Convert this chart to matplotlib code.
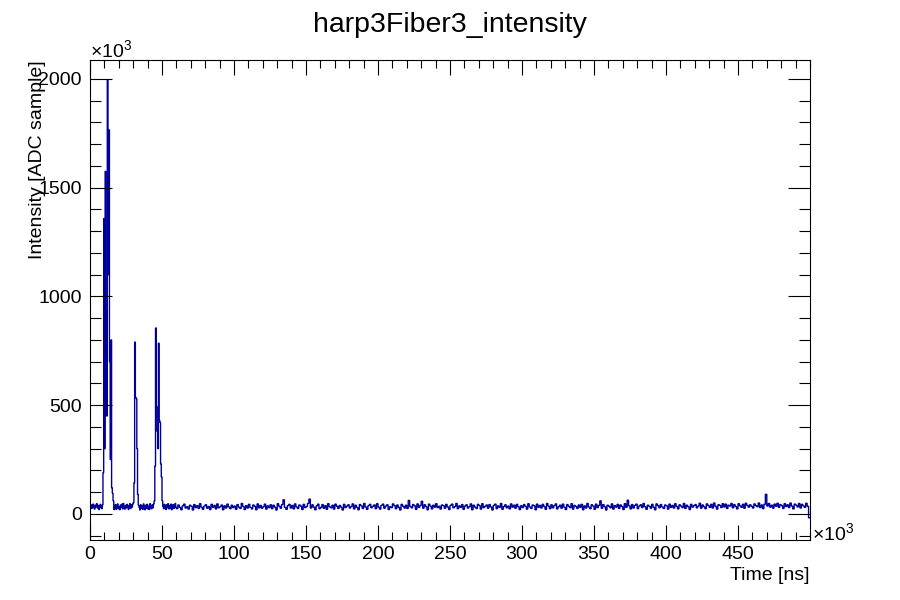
import numpy as np
import matplotlib
matplotlib.use("Agg")
import matplotlib.pyplot as plt
from matplotlib.ticker import MultipleLocator

plt.rcParams['font.family'] = ['Liberation Sans', 'DejaVu Sans']
plt.rcParams['mathtext.fontset'] = 'custom'
plt.rcParams['mathtext.rm'] = 'Liberation Sans'
plt.rcParams['mathtext.it'] = 'Liberation Sans'

# Time in units of 1e3 ns, intensity in units of 1e3 ADC
# fine bins (0.5) for 0 - 60, coarse bins (1) for 60 - 500
fine_width = 0.5
coarse_width = 1.0
fine_counts = [
    34, 42, 25, 38, 45, 29, 22, 40, 33, 47, 27, 39, 20, 36, 44, 28, 24, 41,
    190, 1358, 300, 1575, 930, 450, 1997, 1100, 1766, 700, 250, 800, 120, 95, 60, 20,
    28, 43, 21, 37, 46, 24, 33, 19, 41, 30, 45, 23, 48, 31, 22, 39, 27, 44, 35, 20,
    38, 47, 25, 42, 31, 45, 52,
    143, 790, 536, 530, 300, 90, 40,
    30, 18, 42, 25, 37, 21, 46, 29, 19, 40, 26, 44, 23, 35, 20, 47, 32, 24, 41, 28, 45, 60,
    220, 855, 494, 380, 300, 785, 430, 420, 230, 170, 60, 35,
    24, 44, 31, 20, 42, 29, 47, 23, 38, 27, 45, 19, 36, 43, 25, 33, 48, 30,
]
coarse_counts = [
    24, 41, 30, 19, 37, 45, 27, 33, 22, 40, 35, 18, 43, 29, 38, 25, 47, 31, 21, 36,
    42, 26, 34, 20, 44, 30, 39, 23, 46, 28, 33, 41, 19, 37, 27, 45, 32, 24, 40, 29,
    36, 21, 43, 31, 25, 48, 34, 20, 38, 27, 44, 30, 23, 41, 35, 19, 46, 28, 39, 26,
    33, 45, 22, 37, 29, 42, 24, 40, 31, 18, 47, 35, 26, 43, 65, 30, 21, 38, 44, 27,
    39, 23, 46, 32, 25, 41, 36, 20, 44, 29, 34, 48, 68, 27, 42, 31, 19, 37, 45, 24,
    30, 43, 26, 38, 21, 47, 33, 28, 40, 22, 45, 35, 25, 39, 31, 18, 44, 29, 36, 42,
    27, 34, 46, 23, 40, 30, 19, 43, 37, 25, 48, 32, 21, 38, 44, 28, 35, 41, 24, 47,
    31, 22, 39, 45, 26, 36, 42, 20, 33, 29, 46, 38, 24, 41, 30, 18, 44, 35, 27, 40,
    25, 62, 34, 28, 43, 37, 21, 46, 30, 39, 58, 26, 42, 33, 19, 45, 36, 23, 40, 31,
    47, 29, 35, 22, 41, 38, 26, 44, 32, 20, 39, 45, 28, 34, 48, 24, 37, 30, 43, 21,
    36, 42, 27, 33, 46, 19, 40, 31, 25, 44, 38, 22, 47, 29, 35, 41, 26, 43, 32, 18,
    39, 45, 24, 37, 30, 48, 21, 34, 42, 28, 36, 23, 46, 31, 40, 26, 44, 33, 20, 38,
    29, 43, 35, 22, 47, 32, 25, 41, 37, 19, 45, 30, 39, 27, 44, 34, 21, 48, 36, 24,
    42, 28, 38, 46, 23, 33, 40, 26, 45, 31, 20, 43, 35, 29, 47, 22, 39, 34, 25, 41,
    30, 44, 19, 37, 27, 48, 32, 24, 42, 36, 21, 45, 29, 39, 60, 26, 43, 33, 18, 40,
    35, 28, 46, 22, 38, 31, 44, 25, 41, 34, 20, 47, 30, 63, 37, 23, 43, 27, 39, 45,
    24, 36, 42, 29, 48, 33, 21, 40, 35, 26, 44, 31, 19, 46, 38, 28, 43, 32, 25, 41,
    37, 22, 45, 30, 39, 27, 47, 34, 23, 42, 36, 29, 48, 25, 40, 33, 20, 44, 31, 38,
    43, 28, 36, 49, 26, 41, 33, 24, 46, 38, 30, 44, 27, 50, 35, 22, 42, 39, 29, 47,
    32, 45, 25, 40, 36, 48, 28, 43, 34, 23, 47, 37, 30, 44, 26, 49, 39, 31, 42, 35,
    27, 46, 38, 33, 50, 29, 41, 24, 44, 90, 36, 48, 31, 40, 26, 45, 35, 49, 30, 43,
    38, 25, 47, 34, 42, 29, 50, 36, 23, 45, 40, 32, 48, 27, 44, 37, 30, 49, 35, -18,
]

fine_edges = np.arange(len(fine_counts)) * fine_width
coarse_start = len(fine_counts) * fine_width
coarse_edges = coarse_start + np.arange(len(coarse_counts) + 1) * coarse_width
edges = np.concatenate([fine_edges, coarse_edges])
counts = np.array(fine_counts + coarse_counts)

fig = plt.figure(figsize=(9, 6), dpi=100)
ax = fig.add_axes([0.1, 0.1, 0.8, 0.8])
ax.stairs(counts, edges, color='#000099', linewidth=1.0, baseline=None)

ax.set_xlim(0, 500)
ax.set_ylim(-120, 2087)
ax.xaxis.set_major_locator(MultipleLocator(50))
ax.xaxis.set_minor_locator(MultipleLocator(10))
ax.yaxis.set_major_locator(MultipleLocator(500))
ax.yaxis.set_minor_locator(MultipleLocator(100))
ax.set_xticks(np.arange(0, 500, 50))

ax.tick_params(which='both', direction='in', top=True, right=True, width=0.8,
               labelsize=14, colors='black')
ax.tick_params(axis='x', which='major', length=10.8, pad=4)
ax.tick_params(axis='x', which='minor', length=5.8)
ax.tick_params(axis='y', which='major', length=15.8, pad=6)
ax.tick_params(axis='y', which='minor', length=7.9)
for s in ax.spines.values():
    s.set_linewidth(0.8)

fig.text(0.5, 1 - 32 / 600, 'harp3Fiber3_intensity', fontsize=20.5,
         ha='center', va='baseline')
fig.text(810 / 900, 1 - 580 / 600, 'Time [ns]', fontsize=14,
         ha='right', va='baseline')
fig.text(38 / 900, 1 - 60 / 600, 'Intensity [ADC sample]', fontsize=14,
         rotation=90, ha='center', va='top')
fig.text(90 / 900, 1 - 57 / 600, r'$\times10^{3}$', fontsize=14,
         ha='left', va='baseline')
fig.text(812 / 900, 1 - 540 / 600, r'$\times10^{3}$', fontsize=14,
         ha='left', va='baseline')

fig.savefig('out.png', dpi=100)
